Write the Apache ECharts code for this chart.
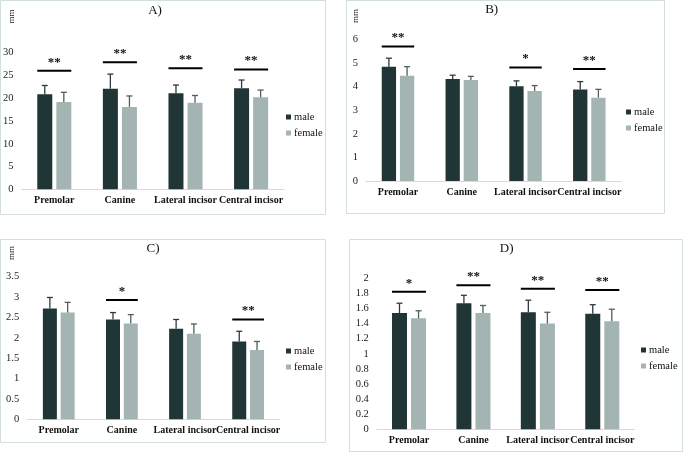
<!DOCTYPE html>
<html>
<head>
<meta charset="utf-8">
<script src="https://cdn.jsdelivr.net/npm/echarts@6/dist/echarts.min.js"></script>
<style>
html,body{margin:0;padding:0;background:#fff;}
#c{width:685px;height:453px;}
</style>
</head>
<body>
<div id="c"></div>
<script>
// ---- data ----
var categories = ['Premolar', 'Canine', 'Lateral incisor', 'Central incisor'];
var seriesNames = ['male', 'female'];
var panelTitles = ['A)', 'B)', 'C)', 'D)'];

var maleA = [20.9, 22.1, 21.1, 22.2];
var maleSdA = [1.9, 3.2, 1.8, 1.8];
var femaleA = [19.2, 18.1, 19.0, 20.2];
var femaleSdA = [2.1, 2.4, 1.6, 1.6];
var sigA = [[0, 26.05, '**'], [1, 27.9, '**'], [2, 26.6, '**'], [3, 26.3, '**']];

var maleB = [4.84, 4.32, 4.01, 3.87];
var maleSdB = [0.36, 0.16, 0.23, 0.34];
var femaleB = [4.46, 4.28, 3.81, 3.53];
var femaleSdB = [0.38, 0.15, 0.23, 0.35];
var sigB = [[0, 5.69, '**'], [2, 4.81, '*'], [3, 4.74, '**']];

var maleC = [2.72, 2.45, 2.22, 1.91];
var maleSdC = [0.27, 0.17, 0.23, 0.25];
var femaleC = [2.62, 2.35, 2.10, 1.70];
var femaleSdC = [0.25, 0.22, 0.24, 0.21];
var sigC = [[1, 2.93, '*'], [3, 2.45, '**']];

var maleD = [1.54, 1.67, 1.55, 1.53];
var maleSdD = [0.13, 0.105, 0.16, 0.12];
var femaleD = [1.47, 1.54, 1.40, 1.43];
var femaleSdD = [0.10, 0.10, 0.15, 0.16];
var sigD = [[0, 1.823, '*'], [1, 1.907, '**'], [2, 1.863, '**'], [3, 1.845, '**']];

var yMaxes = [30, 6, 3.5, 2];
var yIntervals = [5, 1, 0.5, 0.2];

// ---- layout / style ----
var FONT = "Liberation Serif";
var MALE_COLOR = '#1f3536';
var FEMALE_COLOR = '#a3b4b2';
var BAR_GAP = 0.27;

var layouts = [
  {grid: {left: 21.2, top: 52.7, width: 262.7, height: 136.6}, barWidth: 15, legend: {left: 286, top: 111}, frame: [0.5, 0.5, 325, 214], title: [155, 11], mm: [12, 16.5]},
  {grid: {left: 366.1, top: 39.3, width: 255.1, height: 141.7}, barWidth: 14.3, legend: {left: 626, top: 106}, frame: [346.5, 0.5, 318, 213], title: [491.7, 10], mm: [356, 16]},
  {grid: {left: 27.2, top: 276.7, width: 252.5, height: 142.6}, barWidth: 14, legend: {left: 286, top: 345}, frame: [0.5, 239.5, 325, 203], title: [153, 248.3], mm: [11.7, 253]},
  {grid: {left: 376.8, top: 278.3, width: 257.7, height: 151}, barWidth: 15, legend: {left: 641, top: 344}, frame: [349.5, 239.5, 333, 212], title: [506.7, 248.3], mm: null}
];

var panelData = [
  {male: maleA, maleSd: maleSdA, female: femaleA, femaleSd: femaleSdA, sig: sigA},
  {male: maleB, maleSd: maleSdB, female: femaleB, femaleSd: femaleSdB, sig: sigB},
  {male: maleC, maleSd: maleSdC, female: femaleC, femaleSd: femaleSdC, sig: sigC},
  {male: maleD, maleSd: maleSdD, female: femaleD, femaleSd: femaleSdD, sig: sigD}
];

var grids = [], xAxes = [], yAxes = [], series = [], legends = [], graphics = [];

panelData.forEach(function (pd, i) {
  var L = layouts[i];
  var bw = L.barWidth;
  var half = (bw + bw * BAR_GAP) / 2;
  grids.push(L.grid);
  xAxes.push({
    type: 'category', gridIndex: i, data: categories,
    axisLine: {lineStyle: {color: '#d9d9d9', width: 1}},
    axisTick: {show: false},
    axisLabel: {fontFamily: FONT, fontWeight: 'bold', fontSize: 10, color: '#111', margin: 6, interval: 0}
  });
  yAxes.push({
    type: 'value', gridIndex: i, min: 0, max: yMaxes[i], interval: yIntervals[i],
    axisLine: {show: false}, axisTick: {show: false}, splitLine: {show: false},
    axisLabel: {fontFamily: FONT, fontSize: 10.5, color: '#222', margin: 8}
  });
  series.push({
    name: 'male', type: 'bar', xAxisIndex: i, yAxisIndex: i, data: pd.male,
    barWidth: bw, barGap: (BAR_GAP * 100) + '%', itemStyle: {color: MALE_COLOR}, silent: true
  });
  series.push({
    name: 'female', type: 'bar', xAxisIndex: i, yAxisIndex: i, data: pd.female,
    barWidth: bw, barGap: (BAR_GAP * 100) + '%', itemStyle: {color: FEMALE_COLOR}, silent: true
  });
  // error bars
  [['male', pd.male, pd.maleSd, -half, '#2b3b3b'], ['female', pd.female, pd.femaleSd, half, '#4f5e5e']].forEach(function (e) {
    var data = e[1].map(function (v, k) { return [k, v, v + e[2][k]]; });
    var off = e[3], col = e[4];
    series.push({
      type: 'custom', xAxisIndex: i, yAxisIndex: i, data: data, z: 5, silent: true,
      renderItem: function (params, api) {
        var p0 = api.coord([api.value(0), api.value(1)]);
        var p1 = api.coord([api.value(0), api.value(2)]);
        var x = p0[0] + off;
        return {
          type: 'group',
          children: [
            {type: 'line', shape: {x1: x, y1: p0[1], x2: x, y2: p1[1]}, style: {stroke: col, lineWidth: 1.3}},
            {type: 'line', shape: {x1: x - 3, y1: p1[1], x2: x + 3, y2: p1[1]}, style: {stroke: col, lineWidth: 1.3}}
          ]
        };
      }
    });
  });
  // significance marks
  series.push({
    type: 'custom', xAxisIndex: i, yAxisIndex: i, data: pd.sig, z: 6, silent: true,
    renderItem: function (params, api) {
      var p = api.coord([api.value(0), api.value(1)]);
      var label = pd.sig[params.dataIndex][2];
      var x1 = p[0] - half - bw / 2, x2 = p[0] + half + bw / 2;
      return {
        type: 'group',
        children: [
          {type: 'line', shape: {x1: x1, y1: p[1], x2: x2, y2: p[1]}, style: {stroke: '#000', lineWidth: 2}},
          {type: 'text', x: p[0], y: p[1] - 2, style: {text: label, fill: '#111', font: 'bold 13px ' + FONT, align: 'center', verticalAlign: 'bottom'}}
        ]
      };
    }
  });
  legends.push({
    data: seriesNames, orient: 'vertical', left: L.legend.left, top: L.legend.top,
    icon: 'rect', itemWidth: 5, itemHeight: 5, itemGap: 4,
    textStyle: {fontFamily: FONT, fontSize: 10.5, color: '#111', padding: [0, 0, 0, -2], lineHeight: 12},
    padding: 0, selectedMode: false
  });
  graphics.push({type: 'rect', shape: {x: L.frame[0], y: L.frame[1], width: L.frame[2], height: L.frame[3]}, style: {fill: 'none', stroke: '#d3dfdc', lineWidth: 1}, z: -1});
  graphics.push({type: 'text', x: L.title[0], y: L.title[1], style: {text: panelTitles[i], font: '13px ' + FONT, fill: '#111', align: 'center', verticalAlign: 'middle'}});
  if (L.mm) {
    graphics.push({type: 'text', x: L.mm[0], y: L.mm[1], rotation: Math.PI / 2, style: {text: 'mm', font: '9px ' + FONT, fill: '#222', align: 'center', verticalAlign: 'middle'}});
  }
});

var chart = echarts.init(document.getElementById('c'), null, {renderer: 'canvas'});
chart.setOption({
  animation: false,
  backgroundColor: '#fff',
  grid: grids, xAxis: xAxes, yAxis: yAxes, series: series, legend: legends, graphic: graphics
});
</script>
</body>
</html>
